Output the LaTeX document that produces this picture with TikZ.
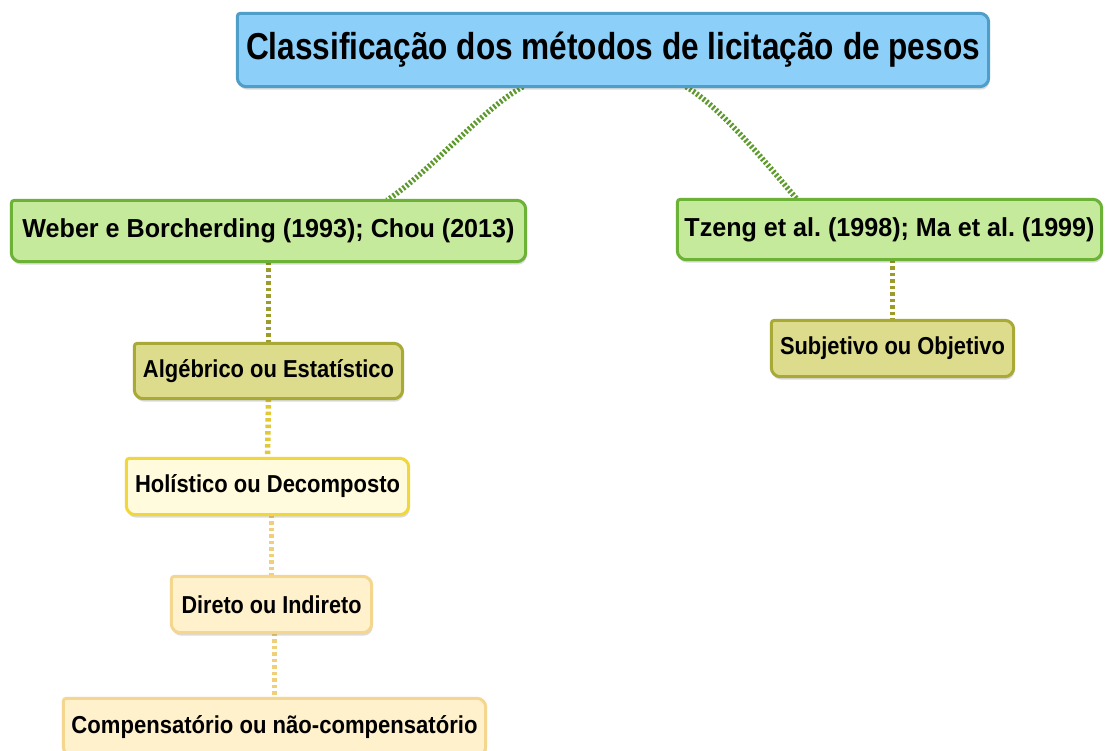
\documentclass[tikz,border=0pt]{standalone}
\usepackage{fontspec}
\usepackage{graphicx}
\setmainfont{Liberation Sans}
\frenchspacing
\pgfdeclarelayer{boxes}
\pgfsetlayers{boxes,main}
\definecolor{tfill}{HTML}{8CCFF8}
\definecolor{tdraw}{HTML}{4F9DC9}
\definecolor{gfill}{HTML}{C6EA9C}
\definecolor{gdraw}{HTML}{6BB237}
\definecolor{ofill}{HTML}{DCDC8C}
\definecolor{odraw}{HTML}{A8A937}
\definecolor{yfill}{HTML}{FFFBDC}
\definecolor{ydraw}{HTML}{F1D73E}
\definecolor{cfill}{HTML}{FFF1CC}
\definecolor{cdraw}{HTML}{F5D68E}
\definecolor{gline}{HTML}{5E9A2E}
\definecolor{oline}{HTML}{9C9C2C}
\definecolor{yline}{HTML}{E2C832}
\definecolor{cline}{HTML}{F0CF7A}
\newcommand\cmbox[3]{%
  \begin{scope}[transform canvas={xshift=1pt,yshift=-3pt}]
    \fill[black,opacity=0.14] ([xshift=3pt]#1.north west) -- ([xshift=-9pt]#1.north east) arc[start angle=90,end angle=0,radius=9pt] -- ([yshift=9pt]#1.south east) arc[start angle=0,end angle=-90,radius=9pt] -- ([xshift=9pt]#1.south west) arc[start angle=270,end angle=180,radius=9pt] -- ([yshift=-3pt]#1.north west) arc[start angle=180,end angle=90,radius=3pt] -- cycle;
  \end{scope}
  \draw[fill=#2,draw=#3,line width=3pt,line join=round] ([xshift=3pt]#1.north west) -- ([xshift=-9pt]#1.north east) arc[start angle=90,end angle=0,radius=9pt] -- ([yshift=9pt]#1.south east) arc[start angle=0,end angle=-90,radius=9pt] -- ([xshift=9pt]#1.south west) arc[start angle=270,end angle=180,radius=9pt] -- ([yshift=-3pt]#1.north west) arc[start angle=180,end angle=90,radius=3pt] -- cycle;
}
\newcommand\fitw[3]{\resizebox{#1pt}{\height}{\fontsize{#2}{#2}\selectfont #3}}
\begin{document}
\begin{tikzpicture}[x=1pt,y=-1pt,
  cnode/.style={inner sep=0pt,font=\bfseries,text=black},
  topline/.style={draw=gline,line width=5.5pt,dash pattern=on 2.2pt off 2pt},
  vline/.style={line width=5.5pt,dash pattern=on 3.5pt off 3pt}]
\begin{pgfonlayer}{boxes}
\fill[white] (0,0) rectangle (1105,751);
\end{pgfonlayer}
\useasboundingbox (0,0) rectangle (1105,751);

\node[cnode,minimum width=751pt,minimum height=73pt] (title) at (613,50)
  {\fitw{734}{37.5}{Classificação dos métodos de licitação de pesos}};
\node[cnode,minimum width=514pt,minimum height=61pt] (weber) at (268.5,231)
  {\fitw{492}{26}{Weber e Borcherding (1993); Chou (2013)}};
\node[cnode,minimum width=424pt,minimum height=60pt] (tzeng) at (889.5,229.5)
  {\fitw{410}{26}{Tzeng et al. (1998); Ma et al. (1999)}};
\node[cnode,minimum width=268pt,minimum height=55pt] (alg) at (268.5,371)
  {\fitw{251}{24.5}{Algébrico ou Estatístico}};
\node[cnode,minimum width=282pt,minimum height=56pt] (hol) at (267.5,486.5)
  {\fitw{265}{24.5}{Holístico ou Decomposto}};
\node[cnode,minimum width=200pt,minimum height=56pt] (dir) at (271.5,604.5)
  {\fitw{180}{24.5}{Direto ou Indireto}};
\node[cnode,minimum width=422pt,minimum height=57pt] (comp) at (274.5,727)
  {\fitw{406}{24.5}{Compensatório ou não-compensatório}};
\node[cnode,minimum width=242pt,minimum height=56pt] (sub) at (892.5,348.5)
  {\fitw{225}{24.5}{Subjetivo ou Objetivo}};

\begin{pgfonlayer}{boxes}
  \draw[topline] ([xshift=-90pt]title.south) .. controls ([xshift=-128pt,yshift=-20pt]title.south) and ([xshift=-183pt,yshift=-85pt]title.south) .. ([xshift=118.5pt]weber.north);
  \draw[topline] ([xshift=73pt]title.south) .. controls ([xshift=107pt,yshift=-20pt]title.south) and ([xshift=152pt,yshift=-75pt]title.south) .. ([xshift=-92.5pt]tzeng.north);
  \draw[vline,draw=oline] (weber.south) -- (alg.north);
  \draw[vline,draw=yline] (alg.south) -- (hol.north);
  \draw[vline,draw=cline] (dir.north |- hol.south) -- (dir.north);
  \draw[vline,draw=cline] (comp.north |- dir.south) -- (comp.north);
  \draw[vline,draw=oline] (sub.north |- tzeng.south) -- (sub.north);
  \cmbox{title}{tfill}{tdraw}
  \cmbox{weber}{gfill}{gdraw}
  \cmbox{tzeng}{gfill}{gdraw}
  \cmbox{alg}{ofill}{odraw}
  \cmbox{hol}{yfill}{ydraw}
  \cmbox{dir}{cfill}{cdraw}
  \cmbox{comp}{cfill}{cdraw}
  \cmbox{sub}{ofill}{odraw}
\end{pgfonlayer}
\end{tikzpicture}
\end{document}
